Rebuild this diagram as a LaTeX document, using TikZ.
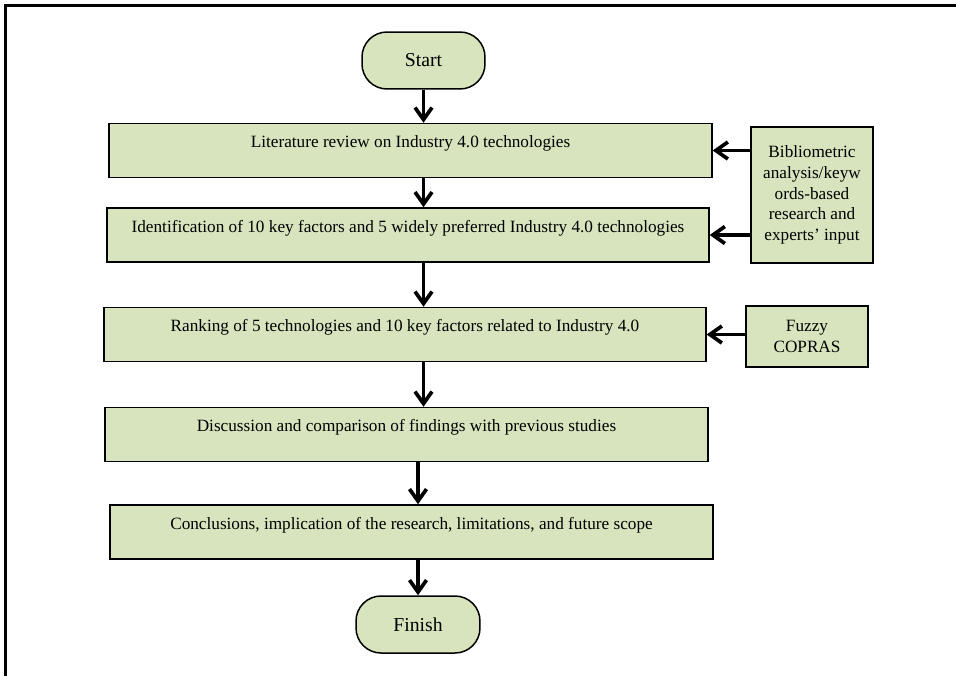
\documentclass[tikz,border=0pt]{standalone}
\usepackage{fontspec}
\setmainfont{Liberation Serif}
\usepackage{tikz}
\usetikzlibrary{arrows.meta}
\definecolor{boxgreen}{HTML}{D7E4BD}

\begin{document}
\begin{tikzpicture}[x=0.02cm,y=-0.02cm,
    font=\fontsize{9.8}{11.8}\selectfont,
    stepbox/.style={draw,fill=boxgreen,line width=0.85pt,inner xsep=0pt,inner ysep=0pt,
        minimum width=12.06cm,text height=0.48cm,text depth=0.6cm},
    endbox/.style={draw,fill=boxgreen,line width=0.85pt,rounded corners=0.5cm,
        minimum width=2.46cm,minimum height=1.14cm,font=\fontsize{11.2}{13}\selectfont},
    inbox/.style={draw,fill=boxgreen,line width=0.85pt,align=center,
        minimum width=2.44cm,inner sep=0pt},
    flow/.style={-{Straight Barb[length=0.24cm,width=0.34cm]},line width=2.1pt}]
    \useasboundingbox (0,0) rectangle (956,676);
    %% frame
    \draw [line width=1.7pt] (4,5.5) -- (956,5.5);
    \draw [line width=1.7pt] (5.5,4) -- (5.5,676);
    %% start and finish
    \node [endbox] (start) at (423.5,60.5) {Start};
    \node [endbox,minimum width=2.48cm] (finish) at (418,624.5) {Finish};
    %% main steps
    \node [stepbox] (lit) at (410.5,150.5) {Literature review on Industry 4.0 technologies};
    \node [stepbox,minimum width=12.04cm] (ident) at (408,235) {Identification of 10 key factors and 5 widely preferred Industry 4.0 technologies};
    \node [stepbox,minimum width=12.04cm] (rank) at (405,334.5) {Ranking of 5 technologies and 10 key factors related to Industry 4.0};
    \node [stepbox] (disc) at (406.5,434.5) {Discussion and comparison of findings with previous studies};
    \node [stepbox] (concl) at (411.5,532) {Conclusions, implication of the research, limitations, and future scope};
    %% inputs
    \node [inbox,minimum height=2.72cm] (biblio) at (812,195) {Bibliometric\\analysis/keyw\\ords-based\\research and\\experts' input};
    \node [inbox,minimum height=1.22cm] (fuzzy) at (807,336.5) {Fuzzy\\COPRAS};
    %% arrows
    \draw [flow] (start) -- (lit.north -| start);
    \draw [flow] (lit.south -| start) -- (ident.north -| start);
    \draw [flow] (ident.south -| start) -- (rank.north -| start);
    \draw [flow] (rank.south -| start) -- (disc.north -| start);
    \draw [flow] (disc.south -| finish) -- (concl.north -| finish);
    \draw [flow] (concl.south -| finish) -- (finish);
    \draw [flow] (biblio.west |- lit) -- (lit.east);
    \draw [flow] (biblio.west |- ident) -- (ident.east);
    \draw [flow] (fuzzy.west |- rank) -- (rank.east);
\end{tikzpicture}
\end{document}
